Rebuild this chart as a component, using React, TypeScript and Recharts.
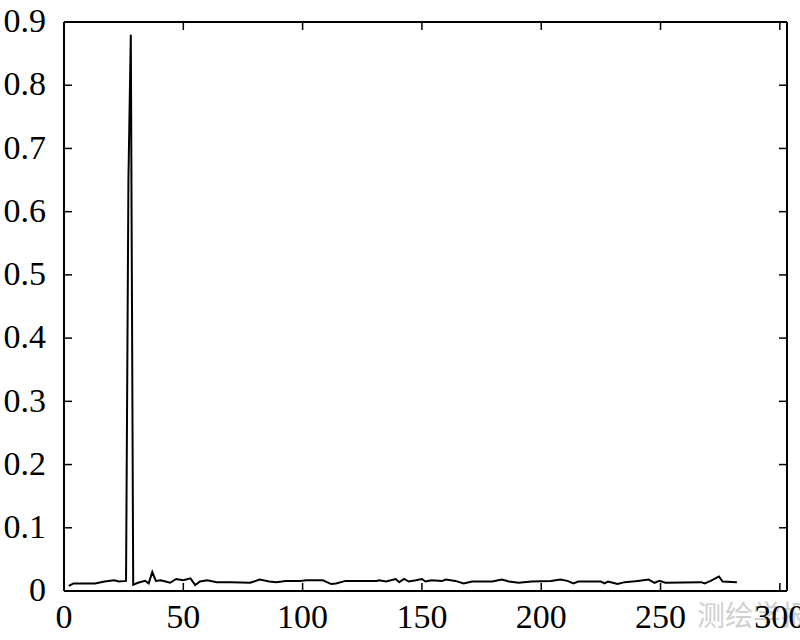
import React from "react";
import { LineChart, Line, XAxis, YAxis } from "recharts";

// sampled from the figure: sample position (x) and value (y)
const sampleX: number[] = [
  2, 4, 8, 13, 17, 21, 23, 26, 27, 28, 29, 31, 34, 35.5, 37, 38.5, 40.5, 44.5, 47, 50,
  53, 55, 57, 60, 64, 70, 78, 82, 86, 89, 93, 99, 101.5, 108.5, 112, 114, 118, 131, 132, 135,
  139, 140.5, 142.5, 144.5, 147.5, 150, 151.5, 154, 158.5, 160, 164, 167.5, 171, 179.5, 183.5, 186.5,
  190.5, 196, 204, 208, 211, 213.5, 215.5, 225, 226.5, 228, 230, 232, 235, 240.5, 245, 247.5,
  249.5, 252, 267, 268.5, 271, 274.5, 276, 282,
];
const sampleY: number[] = [
  0.008, 0.012, 0.012, 0.012, 0.015, 0.017, 0.015, 0.016, 0.65, 0.88, 0.01, 0.013, 0.016, 0.012, 0.03, 0.016, 0.017, 0.013, 0.019, 0.017,
  0.02, 0.0095, 0.015, 0.017, 0.014, 0.014, 0.013, 0.018, 0.015, 0.014, 0.016, 0.016, 0.017, 0.017, 0.011, 0.012, 0.016, 0.016, 0.017, 0.015,
  0.019, 0.014, 0.019, 0.015, 0.017, 0.019, 0.015, 0.017, 0.016, 0.018, 0.016, 0.012, 0.015, 0.015, 0.018, 0.015,
  0.013, 0.015, 0.016, 0.018, 0.016, 0.012, 0.015, 0.015, 0.012, 0.015, 0.013, 0.011, 0.014, 0.016, 0.018, 0.013,
  0.016, 0.013, 0.014, 0.012, 0.016, 0.023, 0.015, 0.014,
];
const xTicks: number[] = [0, 50, 100, 150, 200, 250, 300];
const yTicks: number[] = [0, 0.1, 0.2, 0.3, 0.4, 0.5, 0.6, 0.7, 0.8, 0.9];

const data = sampleX.map((x, i) => ({ x, y: sampleY[i] }));

// plot box (matches the margins below)
const W = 800;
const H = 640;
const LEFT = 64;
const RIGHT = 787;
const TOP = 22;
const BOTTOM = 591;
const TICK = 8;

const font = "'Liberation Serif', 'Times New Roman', serif";
const axisLine = { stroke: "#000", strokeWidth: 2 };

const BottomTick = (props: any) => {
  const { x, payload } = props;
  return (
    <g>
      <line x1={x} x2={x} y1={BOTTOM} y2={BOTTOM - TICK} stroke="#000" strokeWidth={1.5} />
      <line x1={x} x2={x} y1={TOP} y2={TOP + TICK} stroke="#000" strokeWidth={1.5} />
      <text
        x={x}
        y={BOTTOM + 13}
        dy="0.71em"
        textAnchor="middle"
        fontSize={34}
        fontFamily={font}
        fill="#000"
      >
        {payload.value}
      </text>
    </g>
  );
};

const LeftTick = (props: any) => {
  const { y, payload } = props;
  return (
    <g>
      <line x1={LEFT} x2={LEFT + TICK} y1={y} y2={y} stroke="#000" strokeWidth={1.5} />
      <line x1={RIGHT} x2={RIGHT - TICK} y1={y} y2={y} stroke="#000" strokeWidth={1.5} />
      <text
        x={LEFT - 18}
        y={y}
        dy="0.3em"
        textAnchor="end"
        fontSize={34}
        fontFamily={font}
        fill="#000"
      >
        {payload.value}
      </text>
    </g>
  );
};

export default function App() {
  return (
    <div style={{ position: "absolute", left: 0, top: 0, width: W, height: H, background: "#fff" }}>
      <LineChart
        width={W}
        height={H}
        data={data}
        margin={{ top: TOP - 1, right: W - RIGHT - 1, bottom: 0, left: 0 }}
      >
        <XAxis
          dataKey="x"
          type="number"
          domain={[0, 303]}
          ticks={xTicks}
          height={H - BOTTOM}
          axisLine={axisLine}
          tickLine={false}
          tick={<BottomTick />}
          interval={0}
          allowDataOverflow
        />
        <XAxis
          xAxisId="top"
          orientation="top"
          type="number"
          domain={[0, 303]}
          height={1}
          axisLine={axisLine}
          tickLine={false}
          tick={false}
          allowDataOverflow
        />
        <YAxis
          type="number"
          domain={[0, 0.9]}
          ticks={yTicks}
          width={LEFT}
          axisLine={axisLine}
          tickLine={false}
          tick={<LeftTick />}
          interval={0}
          allowDataOverflow
        />
        <YAxis
          yAxisId="right"
          orientation="right"
          type="number"
          domain={[0, 0.9]}
          width={1}
          axisLine={axisLine}
          tickLine={false}
          tick={false}
          allowDataOverflow
        />
        <Line
          dataKey="y"
          type="linear"
          stroke="#000"
          strokeWidth={2}
          dot={false}
          isAnimationActive={false}
        />
        <text
          x={697}
          y={626}
          fontSize={28}
          fill="#d0d0d0"
          fontFamily="'Noto Sans CJK SC', sans-serif"
        >
          测绘学报
        </text>
      </LineChart>
    </div>
  );
}
